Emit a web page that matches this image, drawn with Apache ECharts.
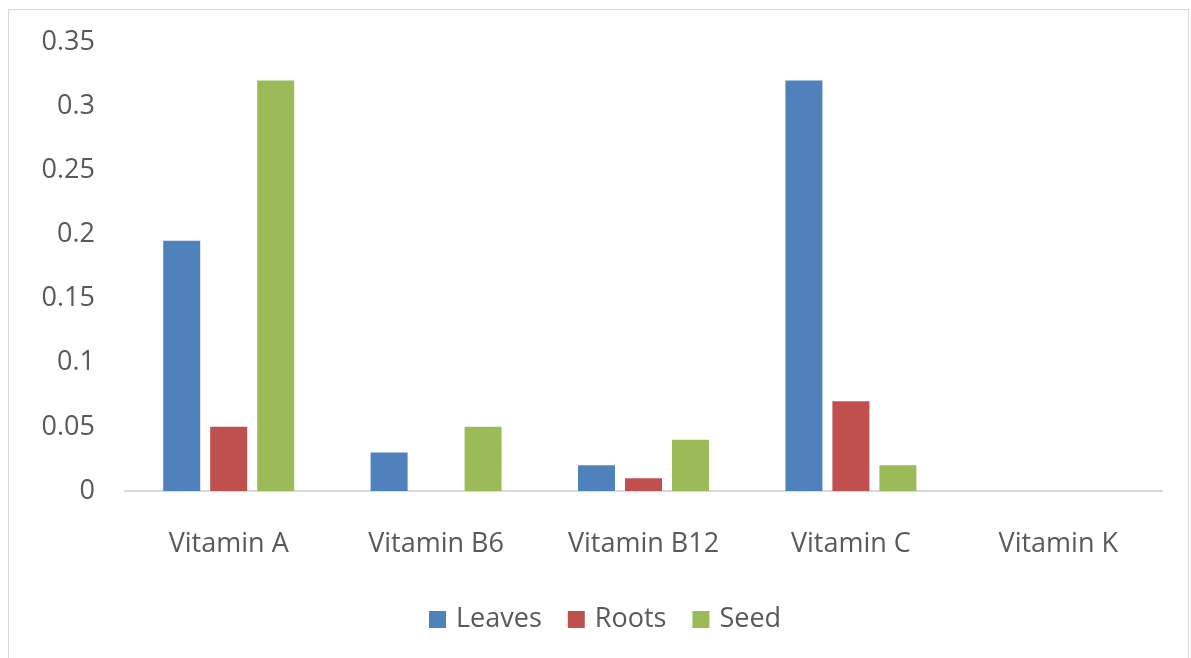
<!DOCTYPE html>
<html>
<head>
<meta charset="utf-8">
<script src="https://cdn.jsdelivr.net/npm/echarts@6/dist/echarts.min.js"></script>
<style>
html,body{margin:0;padding:0;background:#fff;width:1191px;height:658px;overflow:hidden;}
#frame{position:absolute;left:8px;top:9px;width:1181px;height:660px;border:1px solid #d9d9d9;box-sizing:border-box;}
#chart{position:absolute;left:0;top:0;width:1191px;height:658px;}
</style>
</head>
<body>
<div id="frame"></div>
<div id="chart"></div>
<script>
const categories = ['Vitamin A', 'Vitamin B6', 'Vitamin B12', 'Vitamin C', 'Vitamin K'];
const leaves = [0.195, 0.03, 0.02, 0.32, 0];
const roots = [0.05, 0, 0.01, 0.07, 0];
const seed = [0.32, 0.05, 0.04, 0.02, 0];
const yTicks = { min: 0, max: 0.35, interval: 0.05 };

const font = '"Open Sans", "Noto Sans", sans-serif';
const chart = echarts.init(document.getElementById('chart'), null, { renderer: 'canvas' });
const mk = (name, data, color) => ({
  name, type: 'bar', data, barWidth: 37, barGap: '27%',
  itemStyle: { color }, emphasis: { disabled: true }
});
chart.setOption({
  animation: false,
  textStyle: { fontFamily: font },
  grid: { left: 125, right: 29, top: 42, bottom: 167, containLabel: false },
  legend: {
    bottom: 20, left: 424, itemWidth: 17, itemHeight: 17, itemGap: 26,
    icon: 'rect',
    textStyle: { color: '#595959', fontSize: 27, fontFamily: font, padding: [0, 0, 0, 5] },
    data: ['Leaves', 'Roots', 'Seed']
  },
  xAxis: {
    type: 'category', data: categories,
    axisLine: { lineStyle: { color: '#d9d9d9', width: 2 } },
    axisTick: { show: false },
    axisLabel: { color: '#595959', fontSize: 27, margin: 40, fontFamily: font }
  },
  yAxis: {
    type: 'value', min: yTicks.min, max: yTicks.max, interval: yTicks.interval,
    axisLine: { show: false }, axisTick: { show: false }, splitLine: { show: false },
    axisLabel: { color: '#595959', fontSize: 27, margin: 30, fontFamily: font,
      formatter: v => String(parseFloat(v.toFixed(2))) }
  },
  series: [
    mk('Leaves', leaves, '#4F81BD'),
    mk('Roots', roots, '#C0504D'),
    mk('Seed', seed, '#9BBB59')
  ]
});
</script>
</body>
</html>
